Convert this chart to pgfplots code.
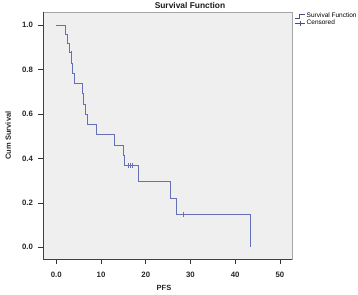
\documentclass[border=0pt]{standalone}
\usepackage{fontspec}
\setmainfont{Liberation Sans}
\usepackage{pgfplots}
\pgfplotsset{compat=1.18}
\definecolor{kmblue}{HTML}{6670B8}
\definecolor{bggray}{HTML}{EFEFEF}
\begin{document}
\begin{tikzpicture}[x=1pt,y=1pt]
\useasboundingbox (0,0) rectangle (358,294);
\begin{axis}[
  at={(43pt,35pt)}, anchor=south west,
  scale only axis, width=249pt, height=247pt,
  xmin=-2.98, xmax=52.7, ymin=-0.053, ymax=1.059,
  axis background/.style={fill=bggray},
  axis line style={draw=gray!70, line width=0.6pt},
  tick align=outside, major tick length=4.5pt,
  xtick pos=bottom, ytick pos=left,
  tick style={draw=black!80, line width=0.6pt},
  xtick={0,10,20,30,40,50}, xticklabels={0.0,10,20,30,40,50},
  ytick={0,0.2,0.4,0.6,0.8,1.0},
  yticklabel style={/pgf/number format/fixed,/pgf/number format/fixed zerofill,/pgf/number format/precision=1},
  /pgf/number format/assume math mode=true,
  ticklabel style={font=\fontsize{7.8}{8}\selectfont\bfseries, text=black!85},
  xticklabel style={yshift=-5pt},
  yticklabel style={xshift=-2pt},
  xlabel={PFS}, ylabel={Cum Survival},
  label style={font=\fontsize{7.5}{8}\selectfont\bfseries, text=black!85},
  xlabel style={at={(axis description cs:0.486,-0.117)}, anchor=center},
  ylabel style={at={(axis description cs:-0.14,0.5)}, anchor=center, rotate=0},
  legend style={at={(axis description cs:1.012,1.0)}, anchor=north west, draw=none, fill=none,
    font=\fontsize{6.5}{7}\selectfont, inner sep=0pt, row sep=-1.5pt,
    nodes={inner sep=1pt}},
  legend cell align=left,
  clip=false,
]
\addplot[kmblue, line width=0.75pt, const plot,
  legend image code/.code={\draw[kmblue!70!black, line width=0.5pt] (0pt,-2pt) -- (4pt,-2pt) -- (4pt,2pt) -- (10pt,2pt);}]
coordinates {
(0,1)
(2.1,0.95833)
(2.4,0.91667)
(2.9,0.87500)
(3.4,0.82895)
(3.7,0.78289)
(3.96,0.73684)
(5.9,0.69079)
(6.1,0.64474)
(6.5,0.59868)
(6.87,0.55263)
(9.05,0.50658)
(13.0,0.46053)
(15.0,0.41447)
(15.3,0.36842)
(18.4,0.29474)
(25.6,0.22105)
(26.9,0.14737)
(43.4,0)
};
\addlegendentry{Survival Function}
\addplot[kmblue, only marks, mark=|, mark size=2.2pt, mark options={line width=0.7pt},
  legend image code/.code={\draw[kmblue!70!black, line width=0.5pt] (0pt,0pt) -- (10pt,0pt); \draw[kmblue!70!black, line width=0.5pt] (5pt,-2.5pt) -- (5pt,2.5pt);}]
coordinates {
(3.35,0.875)
(16.0,0.36842)
(16.5,0.36842)
(17.0,0.36842)
(28.4,0.14737)
};
\addlegendentry{Censored}
\draw[black!75, line width=0.8pt] (rel axis cs:0,1) -- (rel axis cs:0,0) -- (rel axis cs:1,0);
\end{axis}
\node[font=\fontsize{8.4}{9}\selectfont\bfseries, text=black!90] at (190pt,288.5pt) {Survival Function};
\end{tikzpicture}
\end{document}
